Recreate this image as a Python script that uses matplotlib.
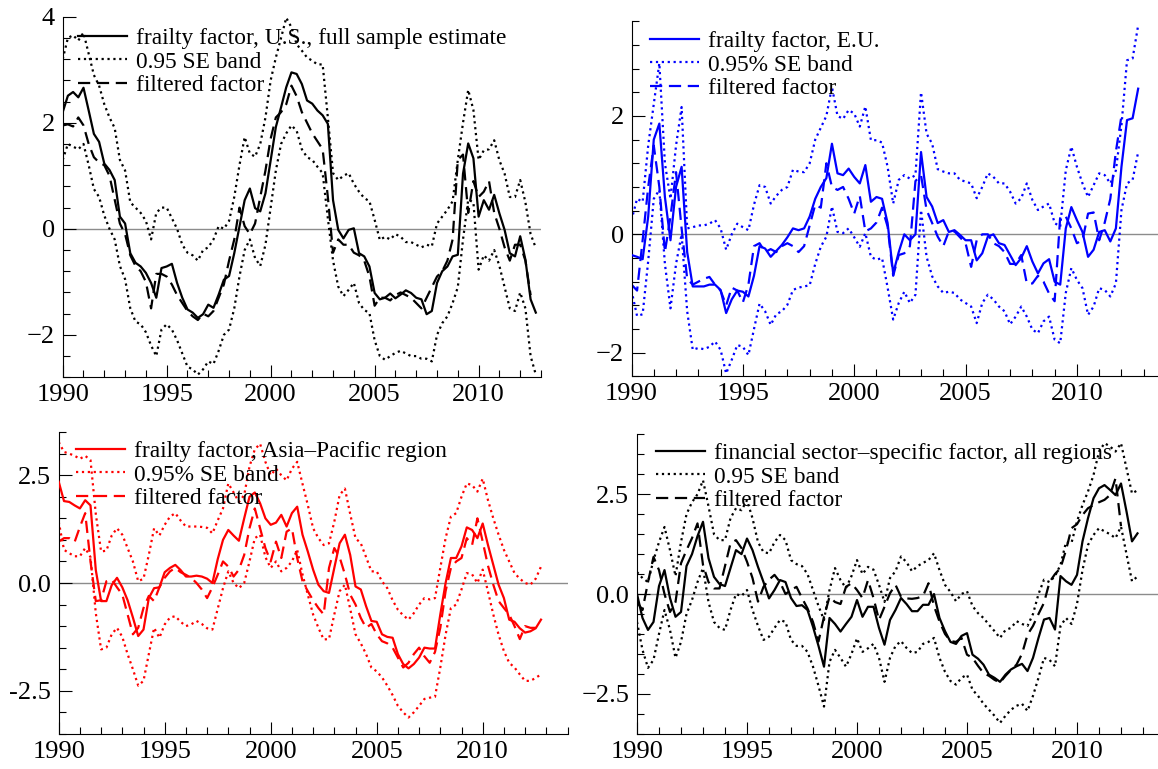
import matplotlib.pyplot as plt
import numpy as np
from matplotlib.ticker import MultipleLocator
from matplotlib.lines import Line2D

plt.rcParams['font.family'] = ['Liberation Serif', 'DejaVu Serif']

W, H = 1158, 769

# quarterly factor estimates, one row per year (1990 ... 2012)
us_factor = [2.2, 2.51, 2.58, 2.48, 2.66, 2.23, 1.79, 1.64, 1.23, 1.11, 0.92, 0.23,
             0.1, -0.46, -0.64, -0.71, -0.83, -1.02, -1.3, -0.74, -0.71, -0.66, -1.02, -1.3,
             -1.52, -1.58, -1.68, -1.61, -1.43, -1.49, -1.24, -0.96, -0.89, -0.46, 0.04, 0.54,
             0.76, 0.39, 0.33, 0.67, 1.29, 1.92, 2.29, 2.67, 2.95, 2.92, 2.73, 2.42,
             2.36, 2.23, 2.14, 1.98, 0.54, -0.02, -0.18, -0.02, 0.01, -0.46, -0.52, -0.71,
             -1.21, -1.33, -1.3, -1.22, -1.31, -1.24, -1.16, -1.21, -1.3, -1.33, -1.61, -1.55,
             -1.02, -0.8, -0.71, -0.52, -0.49, 1.04, 1.61, 1.33, 0.23, 0.54, 0.36, 0.64,
             0.29, -0.02, -0.46, -0.52, -0.14, -0.58, -1.33, -1.58]
us_upper = [3.2, 3.6, 3.65, 3.55, 3.7, 3.3, 2.9, 2.7, 2.35, 2.1, 1.9, 1.3,
            1.1, 0.5, 0.4, 0.3, 0.15, -0.2, 0.3, 0.4, 0.4, 0.2, 0.0, -0.3,
            -0.45, -0.5, -0.6, -0.4, -0.35, -0.2, 0.05, 0.0, 0.15, 0.6, 1.2, 1.73,
            1.42, 1.36, 1.6, 2.1, 2.8, 3.23, 3.6, 3.98, 3.8, 3.48, 3.36, 3.23,
            3.17, 3.1, 3.1, 2.1, 1.05, 0.92, 1.0, 1.05, 0.85, 0.7, 0.58, 0.52,
            0.17, -0.21, -0.15, -0.2, -0.1, -0.15, -0.25, -0.25, -0.3, -0.35, -0.3, -0.33,
            0.1, 0.23, 0.36, 0.52, 1.3, 2.0, 2.62, 2.24, 1.3, 1.48, 1.5, 1.67,
            1.29, 1.04, 0.6, 0.6, 0.92, 0.5, -0.1, -0.36]
us_lower = [1.3, 1.6, 1.55, 1.5, 1.6, 1.2, 0.75, 0.6, 0.25, 0.0, -0.2, -0.7,
            -0.95, -1.5, -1.75, -1.8, -1.95, -2.2, -2.4, -1.9, -1.8, -1.9, -2.1, -2.35,
            -2.6, -2.65, -2.75, -2.65, -2.5, -2.55, -2.3, -2.0, -1.9, -1.5, -0.9, -0.4,
            -0.2, -0.55, -0.7, -0.3, 0.4, 1.1, 1.6, 1.8, 1.95, 1.85, 1.5, 1.35,
            1.3, 1.17, 1.05, 0.2, -0.6, -1.09, -1.27, -1.15, -1.02, -1.4, -1.53, -1.59,
            -2.1, -2.4, -2.47, -2.4, -2.34, -2.3, -2.35, -2.4, -2.4, -2.45, -2.45, -2.5,
            -2.0, -1.78, -1.65, -1.4, -1.1, -0.2, 0.55, 0.5, -0.77, -0.5, -0.6, -0.4,
            -0.7, -1.1, -1.5, -1.55, -1.2, -1.5, -2.4, -2.75]
us_filtered = [1.95, 1.97, 1.93, 2.1, 1.95, 1.6, 1.35, 1.25, 1.2, 1.0, 0.55, 0.1,
               -0.1, -0.5, -0.7, -0.8, -1.0, -1.5, -0.85, -0.85, -0.9, -1.05, -1.25, -1.4,
               -1.55, -1.65, -1.72, -1.6, -1.65, -1.55, -1.3, -1.05, -0.6, -0.2, 0.4, 0.05,
               -0.1, 0.1, 0.6, 1.1, 1.7, 2.1, 2.2, 2.35, 2.7, 2.5, 2.2, 2.0,
               1.8, 1.65, 1.5, 0.6, -0.45, -0.2, -0.3, -0.3, -0.45, -0.5, -0.6, -0.9,
               -1.45, -1.3, -1.3, -1.35, -1.25, -1.2, -1.25, -1.3, -1.4, -1.5, -1.3, -1.1,
               -0.9, -0.8, -0.6, -0.2, 1.3, 1.4, 0.3, 0.9, 0.6, 0.7, 0.9, 0.3,
               0.0, -0.35, -0.6, -0.3, -0.3, -0.6, -1.25]

eu_factor = [-0.35, -0.38, -0.42, 0.3, 1.6, 1.87, 0.63, -0.1, 0.8, 1.14, -0.3, -0.88,
             -0.88, -0.88, -0.85, -0.85, -0.94, -1.33, -1.1, -0.95, -0.97, -1.05, -0.7, -0.2,
             -0.24, -0.38, -0.28, -0.18, -0.05, 0.1, 0.07, 0.1, 0.3, 0.6, 0.8, 0.95,
             1.53, 1.03, 1.0, 1.11, 0.97, 0.86, 1.17, 0.55, 0.63, 0.6, 0.19, -0.66,
             -0.3, 0.0, -0.1, 0.0, 1.39, 0.63, 0.47, 0.19, 0.24, 0.04, 0.07, -0.01,
             -0.1, -0.1, -0.44, -0.32, -0.04, 0.0, -0.15, -0.18, -0.35, -0.52, -0.4, -0.2,
             -0.46, -0.66, -0.49, -0.42, -0.8, -0.85, 0.1, 0.46, 0.24, 0.04, -0.38, -0.26,
             0.04, 0.07, -0.12, 0.1, 1.14, 1.93, 1.96, 2.46]
eu_upper = [0.24, 0.6, 0.55, 1.5, 2.2, 2.89, 1.2, 0.6, 1.5, 2.15, 0.1, 0.12,
            0.15, 0.15, 0.18, 0.24, 0.1, -0.26, 0.0, 0.18, 0.12, 0.07, 0.5, 0.83,
            0.8, 0.52, 0.65, 0.75, 0.8, 1.09, 1.06, 1.05, 1.2, 1.6, 1.8, 2.0,
            2.49, 2.0, 1.95, 2.1, 2.04, 1.82, 2.16, 1.59, 1.59, 1.55, 1.14, 0.52,
            0.92, 1.0, 0.94, 1.0, 2.4, 1.7, 1.53, 1.1, 1.06, 1.03, 1.03, 0.92,
            0.89, 0.86, 0.61, 0.8, 1.03, 0.97, 0.86, 0.86, 0.72, 0.52, 0.61, 0.86,
            0.58, 0.41, 0.47, 0.52, 0.19, 0.13, 1.08, 1.48, 1.14, 0.86, 0.63, 0.83,
            1.03, 1.0, 0.86, 1.08, 1.84, 2.94, 2.97, 3.53]
eu_lower = [-0.95, -1.38, -1.35, -0.45, 0.6, 0.75, -0.5, -1.25, -0.5, 0.0, -1.3, -1.95,
            -1.92, -1.94, -1.9, -1.81, -1.95, -2.35, -2.12, -1.87, -1.9, -2.04, -1.6, -1.17,
            -1.3, -1.53, -1.35, -1.3, -1.19, -0.94, -0.9, -0.88, -0.86, -0.5, -0.21, -0.04,
            0.47, 0.04, 0.02, 0.1, -0.05, -0.21, 0.02, -0.38, -0.43, -0.4, -0.9, -1.44,
            -1.16, -0.97, -1.16, -1.02, 0.41, -0.38, -0.71, -0.88, -0.99, -0.97, -0.99, -1.1,
            -1.16, -1.22, -1.5, -1.16, -1.02, -1.1, -1.22, -1.3, -1.52, -1.39, -1.22, -1.39,
            -1.61, -1.67, -1.47, -1.39, -1.78, -1.84, -0.99, -0.57, -0.77, -0.91, -1.36, -1.22,
            -0.91, -0.94, -1.05, -0.83, 0.41, 0.86, 0.92, 1.39]
eu_filtered = [-0.85, -0.95, -0.1, 0.8, 1.5, 0.8, -0.3, 0.3, 1.05, 0.1, -0.75, -0.85,
               -0.8, -0.75, -0.72, -0.85, -0.95, -1.2, -0.9, -0.95, -1.15, -0.85, -0.2, -0.15,
               -0.3, -0.25, -0.3, -0.2, -0.15, -0.2, -0.3, -0.2, 0.15, 0.5, 0.45, 1.2,
               0.8, 0.75, 0.8, 0.6, 0.35, 0.65, 0.05, 0.1, 0.2, 0.45, 0.13, -0.7,
               -0.35, -0.32, -0.2, 0.9, 1.0, 0.41, 0.19, -0.04, -0.2, 0.05, 0.05, -0.05,
               -0.15, -0.55, -0.1, 0.0, 0.0, -0.15, -0.2, -0.3, -0.5, -0.5, -0.35, -0.83,
               -0.83, -0.7, -0.8, -1.0, -1.13, 0.3, 0.3, 0.1, -0.15, -0.1, 0.35, 0.37,
               -0.1, 0.2, 0.6, 1.4, 2.0]

ap_factor = [2.35, 1.9, 1.88, 1.8, 1.73, 1.92, 1.8, 0.3, -0.42, -0.42, -0.05, 0.12,
             -0.1, -0.4, -0.8, -1.23, -1.08, -0.35, -0.12, -0.1, 0.25, 0.35, 0.42, 0.3,
             0.15, 0.15, 0.17, 0.15, 0.1, 0.0, 0.55, 1.0, 1.23, 1.1, 0.98, 1.5,
             2.0, 2.1, 1.85, 1.5, 1.35, 1.4, 1.58, 1.31, 1.62, 1.77, 1.12, 0.73,
             0.31, -0.04, -0.19, -0.23, 0.35, 0.92, 1.12, 0.65, -0.08, -0.15, -0.54, -0.88,
             -0.9, -1.19, -1.25, -1.27, -1.65, -1.88, -1.98, -1.88, -1.73, -1.5, -1.52, -1.52,
             -0.73, 0.0, 0.58, 0.58, 0.85, 1.29, 1.23, 1.04, 1.38, 0.88, 0.42, -0.04,
             -0.35, -0.85, -0.9, -1.05, -1.15, -1.12, -1.05, -0.85]
ap_upper = [3.27, 3.04, 3.0, 2.95, 2.88, 2.95, 2.85, 1.6, 0.73, 0.75, 1.1, 1.27,
            1.12, 0.81, 0.5, 0.04, 0.1, 0.65, 1.27, 1.1, 1.35, 1.54, 1.62, 1.45,
            1.31, 1.31, 1.31, 1.3, 1.28, 1.15, 1.45, 1.73, 2.31, 2.1, 1.88, 2.04,
            2.7, 3.1, 3.23, 2.81, 2.5, 2.65, 2.5, 2.38, 2.65, 2.81, 2.3, 1.81,
            1.27, 1.04, 0.88, 0.92, 1.42, 2.04, 2.19, 1.6, 1.04, 0.92, 0.6, 0.27,
            0.27, 0.04, -0.12, -0.4, -0.62, -0.75, -0.85, -0.7, -0.5, -0.35, -0.38, -0.35,
            0.35, 1.04, 1.54, 1.62, 2.0, 2.31, 2.27, 2.12, 2.42, 1.92, 1.5, 1.12,
            0.77, 0.5, 0.23, 0.1, 0.0, -0.04, 0.1, 0.38]
ap_lower = [1.42, 0.77, 0.69, 0.62, 0.62, 0.81, 0.6, -0.7, -1.54, -1.5, -1.19, -1.04,
            -1.25, -1.65, -2.0, -2.38, -2.27, -1.65, -1.04, -1.27, -0.96, -0.8, -0.77, -0.9,
            -1.0, -0.96, -0.88, -0.95, -1.05, -1.08, -0.6, -0.12, 0.27, 0.0, -0.12, 0.0,
            0.5, 1.04, 1.12, 0.6, 0.35, 0.5, 0.27, 0.35, 0.5, 0.77, 0.2, -0.27,
            -0.73, -1.04, -1.31, -1.3, -0.73, -0.19, -0.04, -0.6, -1.19, -1.4, -1.65, -1.96,
            -2.05, -2.19, -2.38, -2.6, -2.85, -3.0, -3.12, -3.0, -2.85, -2.69, -2.66, -2.64,
            -1.96, -1.2, -0.58, -0.5, -0.15, 0.23, 0.2, 0.0, 0.31, -0.2, -0.73, -1.2,
            -1.58, -1.85, -1.96, -2.12, -2.27, -2.27, -2.2, -2.12]
ap_filtered = [0.96, 1.04, 1.04, 0.95, 1.3, 1.62, 0.5, -0.42, -0.4, 0.04, 0.08, -0.1,
               -0.27, -0.73, -1.19, -1.04, -0.58, -0.3, -0.42, -0.1, 0.12, 0.27, 0.35, 0.25,
               0.19, 0.12, 0.0, -0.15, -0.35, -0.1, 0.19, 0.5, 0.38, 0.15, 0.31, 0.65,
               1.27, 1.73, 1.27, 0.81, 0.5, 0.96, 0.58, 1.19, 1.27, 0.58, 0.04, -0.19,
               -0.4, -0.58, -0.73, 0.35, 0.81, 0.6, 0.2, -0.27, -0.5, -0.81, -1.04, -0.95,
               -1.19, -1.35, -1.4, -1.5, -1.73, -1.96, -1.85, -1.65, -1.5, -1.7, -1.85, -1.6,
               -1.04, -0.19, 0.35, 0.5, 0.58, 1.04, 0.88, 1.5, 0.96, 0.4, -0.04, -0.42,
               -0.58, -0.73, -1.0, -1.3, -1.0, -1.04, -1.04]

fin_factor = [0.0, -0.6, -0.9, -0.7, 0.2, 0.6, -0.1, -0.57, -0.45, 0.7, 1.0, 1.45,
              1.81, 0.9, 0.43, 0.25, 0.2, 0.65, 1.1, 1.0, 1.39, 1.1, 0.68, 0.3,
              -0.11, 0.1, 0.35, 0.3, -0.1, -0.3, -0.28, -0.4, -0.82, -1.3, -1.82, -0.6,
              -0.75, -0.94, -0.75, -0.57, -0.15, -0.57, -0.32, -0.32, -0.85, -1.27, -0.65, -0.4,
              -0.1, -0.25, -0.43, -0.43, -0.27, -0.27, 0.0, -0.6, -0.93, -1.2, -1.25, -1.05,
              -0.98, -1.52, -1.62, -1.77, -2.02, -2.1, -2.2, -2.02, -1.89, -1.81, -1.75, -1.93,
              -1.6, -1.1, -0.64, -0.6, -0.89, 0.45, 0.32, 0.23, 0.48, 1.32, 1.9, 2.4,
              2.65, 2.73, 2.61, 2.48, 2.77, 2.07, 1.32, 1.52]
fin_upper = [0.55, 0.4, 0.3, 0.85, 1.3, 1.68, 1.1, 0.45, 1.3, 2.0, 2.3, 2.5,
             2.85, 2.2, 1.5, 1.35, 1.35, 1.9, 2.15, 2.1, 2.35, 1.9, 1.3, 1.05,
             1.02, 1.3, 1.48, 1.35, 0.85, 0.75, 0.7, 0.5, 0.1, -0.3, -0.65, 0.1,
             0.65, 0.35, 0.15, 0.45, 0.85, 0.5, 0.68, 0.61, 0.23, -0.2, 0.4, 0.57,
             0.94, 0.8, 0.57, 0.7, 0.78, 0.85, 1.02, 0.6, 0.23, 0.05, -0.18, 0.0,
             0.07, -0.3, -0.48, -0.6, -0.77, -0.93, -1.1, -0.9, -0.85, -0.68, -0.75, -0.8,
             -0.5, 0.0, 0.36, 0.3, 0.45, 0.73, 1.3, 1.28, 1.82, 2.23, 2.57, 2.98,
             3.57, 3.78, 3.7, 3.57, 3.78, 3.15, 2.52, 2.6]
fin_lower = [-0.7, -1.4, -1.85, -1.65, -1.0, -0.4, -0.9, -1.6, -1.2, -0.5, -0.15, 0.3,
             0.65, -0.2, -0.7, -0.85, -0.9, -0.4, 0.0, -0.05, 0.1, -0.4, -0.8, -1.15,
             -1.07, -0.85, -0.65, -0.7, -1.15, -1.3, -1.3, -1.45, -1.82, -2.3, -2.82, -1.7,
             -1.4, -1.6, -1.82, -1.5, -1.11, -1.45, -1.36, -1.25, -1.6, -2.2, -1.6, -1.3,
             -1.18, -1.35, -1.48, -1.45, -1.25, -1.2, -1.1, -1.6, -1.95, -2.18, -2.27, -2.1,
             -2.02, -2.4, -2.55, -2.75, -2.9, -3.05, -3.23, -3.05, -2.9, -2.8, -2.75, -2.93,
             -2.55, -2.1, -1.6, -1.65, -1.81, -0.8, -0.6, -0.75, -0.25, 0.6, 1.23, 1.48,
             1.65, 1.57, 1.5, 1.4, 1.69, 1.0, 0.32, 0.44]
fin_filtered = [-0.2, -0.4, 0.3, 0.93, 0.6, 0.0, -0.45, -0.2, 0.77, 1.1, 1.4, 1.77,
                0.73, 0.3, 0.14, 0.14, 0.7, 1.27, 1.35, 1.15, 0.81, 0.4, -0.19, 0.18,
                0.36, 0.48, 0.3, 0.0, 0.1, 0.18, -0.1, -0.36, -0.7, -1.19, -0.57, -0.07,
                -0.2, -0.25, 0.18, 0.27, 0.1, -0.1, 0.35, -0.1, -0.65, -0.32, 0.02, 0.23,
                -0.07, -0.11, -0.12, -0.1, -0.05, 0.27, -0.3, -0.69, -1.0, -1.18, -1.2, -1.1,
                -1.52, -1.6, -1.8, -1.98, -2.05, -2.15, -2.22, -2.05, -1.9, -1.77, -1.5, -1.02,
                -0.8, -0.5, -0.22, 0.3, 0.5, 0.65, 1.1, 1.65, 1.75, 1.98, 2.15, 2.23,
                2.3, 2.36, 2.48, 2.9, 1.7]

quarters = np.arange(1990, 2013, 0.25)

panels = [
    dict(title="frailty factor, U.S., full sample estimate", band="0.95 SE band", color="black",
         data=(us_factor, us_upper, us_lower, us_filtered),
         xlim=(1990, 2013), ylim=(-2.8, 4.0), yticks=[-2, 0, 2, 4],
         ylabels=["\u22122", "0", "2", "4"], ystep=0.4,
         box=(62.7, 16.7, 478.3, 360.6), leg=(78, 28)),
    dict(title="frailty factor, E.U.", band="0.95% SE band", color="#0000ff",
         data=(eu_factor, eu_upper, eu_lower, eu_filtered),
         xlim=(1990, 2014), ylim=(-2.4, 3.6), yticks=[-2, 0, 2],
         ylabels=["\u22122", "0", "2"], ystep=0.4,
         box=(631.5, 21.2, 534.5, 355.2), leg=(650, 31)),
    dict(title="frailty factor, Asia\u2013Pacific region", band="0.95% SE band", color="#ff0000",
         data=(ap_factor, ap_upper, ap_lower, ap_filtered),
         xlim=(1990, 2014), ylim=(-3.5, 3.5), yticks=[-2.5, 0, 2.5],
         ylabels=["-2.5", "0.0", "2.5"], ystep=0.5,
         box=(58.7, 432.1, 508.8, 301.8), leg=(76, 441)),
    dict(title="financial sector\u2013specific factor, all regions", band="0.95 SE band", color="black",
         data=(fin_factor, fin_upper, fin_lower, fin_filtered),
         xlim=(1990, 2014), ylim=(-3.5, 4.0), yticks=[-2.5, 0, 2.5],
         ylabels=["\u22122.5", "0.0", "2.5"], ystep=0.5,
         box=(637.0, 434.4, 528.0, 299.3), leg=(656, 443)),
]

fig = plt.figure(figsize=(W / 100, H / 100), dpi=100)

for p in panels:
    left, top, width, height = p["box"]
    ax = fig.add_axes([left / W, 1 - (top + height) / H, width / W, height / H])
    factor, upper, lower, filtered = p["data"]
    c = p["color"]
    lw = 1.6
    dash = (0, (5.5, 3))

    ax.axhline(0, color="0.55", lw=1.0, zorder=1)
    ax.plot(quarters[:len(factor)], factor, color=c, lw=lw, zorder=3)
    ax.plot(quarters[:len(upper)], upper, color=c, lw=lw, ls=":", zorder=2)
    ax.plot(quarters[:len(lower)], lower, color=c, lw=lw, ls=":", zorder=2)
    ax.plot(quarters[:len(filtered)], filtered, color=c, lw=lw, ls=dash, zorder=2)

    ax.set_xlim(*p["xlim"])
    ax.set_ylim(*p["ylim"])
    ax.spines["top"].set_visible(False)
    ax.spines["right"].set_visible(False)

    ax.set_xticks([1990, 1995, 2000, 2005, 2010])
    ax.set_xticklabels(["1990", "1995", "2000", "2005", "2010"])
    ax.xaxis.set_minor_locator(MultipleLocator(1))
    ax.set_yticks(p["yticks"])
    ax.set_yticklabels(p["ylabels"])
    ax.yaxis.set_minor_locator(MultipleLocator(p["ystep"]))
    ax.tick_params(which="both", direction="in", labelsize=19, width=0.8)
    ax.tick_params(which="major", length=9)
    ax.tick_params(which="minor", length=5)
    ax.tick_params(axis="y", pad=5.5)
    ax.tick_params(axis="x", pad=5)

    handles = [Line2D([], [], color=c, lw=lw),
               Line2D([], [], color=c, lw=lw, ls=":"),
               Line2D([], [], color=c, lw=lw, ls=dash)]
    lx, ly = p["leg"]
    ax.legend(handles, [p["title"], p["band"], "filtered factor"],
              loc="upper left", bbox_to_anchor=(lx / W, 1 - ly / H),
              bbox_transform=fig.transFigure, frameon=False, fontsize=16.8,
              handlelength=2.1, handletextpad=0.4, labelspacing=0.08,
              borderpad=0, borderaxespad=0)

fig.savefig("out.png", dpi=100)
